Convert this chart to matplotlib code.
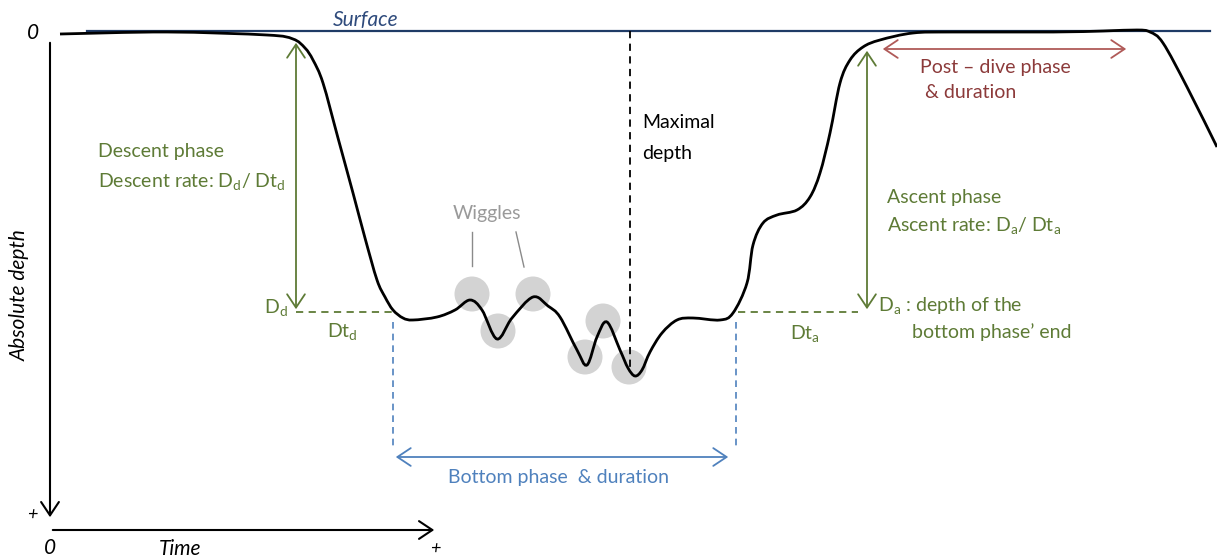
import matplotlib
matplotlib.use("Agg")
import matplotlib.pyplot as plt
import numpy as np
from matplotlib.path import Path
from matplotlib.patches import PathPatch, Circle, FancyArrowPatch

plt.rcParams['font.family'] = ['Lato', 'DejaVu Sans']
plt.rcParams['mathtext.fontset'] = 'custom'
plt.rcParams['mathtext.rm'] = 'Lato'
plt.rcParams['mathtext.it'] = 'Lato:italic'

# ---- data (schematic units: time -> x, depth -> y) ----
profile_time = [60, 167, 267, 293, 305, 313, 323, 338, 353, 365, 377, 385, 393, 403, 413,
                437, 455, 470, 482, 497, 512, 533, 548, 560, 577, 587, 597, 607, 620,
                628, 635, 642, 650, 662, 677, 693, 720, 733, 747, 753, 763, 777, 797,
                810, 820, 830, 840, 850, 863, 880, 913, 953, 1053, 1103, 1137, 1150,
                1163, 1187, 1217]
profile_depth = [34, 32, 35, 39, 48, 60, 83, 138, 193, 238, 280, 297, 310, 318, 320,
                 317, 310, 300, 310, 339, 318, 297, 306, 317, 350, 365, 337, 322, 350,
                 368, 376, 370, 352, 333, 320, 318, 320, 313, 283, 245, 223, 215, 210,
                 197, 173, 133, 83, 60, 47, 40, 33, 32, 32, 31, 30, 32, 43, 87, 147]

wiggle_time = [472, 498, 533, 585, 603, 629]
wiggle_depth = [294, 331, 294, 357, 321, 367]

surface_depth = 31
descent_end_time, descent_depth = 393, 312
ascent_start_time, ascent_depth = 736, 312
max_depth_time, max_depth = 630, 376
post_dive_start, post_dive_end = 880, 1129

GREEN = '#5e7b36'
BLUE = '#4f81bd'
RED = '#8c3a3a'
NAVY = '#1f3b66'
FS = 14

fig = plt.figure(figsize=(12.17, 5.58), dpi=100)
ax = fig.add_axes([0, 0, 1, 1])
ax.set_xlim(0, 1217)
ax.set_ylim(558, 0)
ax.axis('off')

# smooth curve through profile points (Catmull-Rom -> cubic Bezier)
pts = np.column_stack([profile_time, profile_depth]).astype(float)
verts = [pts[0]]
codes = [Path.MOVETO]
for i in range(len(pts) - 1):
    p0 = pts[i - 1] if i > 0 else pts[i]
    p1 = pts[i]
    p2 = pts[i + 1]
    p3 = pts[i + 2] if i + 2 < len(pts) else pts[i + 1]
    c1 = p1 + (p2 - p0) / 6.0
    c2 = p2 - (p3 - p1) / 6.0
    verts += [c1, c2, p2]
    codes += [Path.CURVE4] * 3

# wiggle circles
for t, d in zip(wiggle_time, wiggle_depth):
    ax.add_patch(Circle((t, d), 17.5, facecolor='#d3d3d3', edgecolor='none', zorder=1))

# surface line
ax.plot([87, 1210], [surface_depth, surface_depth], color=NAVY, lw=1.6, zorder=2)
ax.text(366, 20, 'Surface', color='#2f4b7c', fontsize=15, style='italic',
        ha='center', va='center')

ax.add_patch(PathPatch(Path(verts, codes), facecolor='none', edgecolor='black', lw=2.0, zorder=3))

# axes arrows
arr = '->,head_length=6,head_width=4'
ax.add_patch(FancyArrowPatch((50, 40), (50, 520), arrowstyle=arr,
                             color='black', lw=1.5, mutation_scale=1.6, zorder=2))
ax.add_patch(FancyArrowPatch((50, 530), (437, 530), arrowstyle=arr,
                             color='black', lw=1.5, mutation_scale=1.6, zorder=2))
ax.text(33, 33, '0', fontsize=15, style='italic', ha='center', va='center')
ax.text(32, 515, '+', fontsize=13, style='italic', ha='center', va='center')
ax.text(50, 548, '0', fontsize=15, style='italic', ha='center', va='center')
ax.text(180, 549, 'Time', fontsize=15, style='italic', ha='center', va='center')
ax.text(435, 549, '+', fontsize=13, style='italic', ha='center', va='center')
ax.text(20, 295, 'Absolute depth', fontsize=15, style='italic', rotation=90,
        ha='center', va='center')

# descent annotations
darr = '<->,head_length=6,head_width=4'
ax.add_patch(FancyArrowPatch((296, 40), (296, descent_depth), arrowstyle=darr, color=GREEN,
                             lw=1.3, mutation_scale=1.6, zorder=2))
ax.plot([296, descent_end_time], [descent_depth, descent_depth], color=GREEN, lw=1.3,
        ls=(0, (4, 3)), zorder=2)
ax.text(98, 152, 'Descent phase', color=GREEN, fontsize=FS, va='center')
ax.text(98, 182, r'Descent rate: D$_{\rm d}$/ Dt$_{\rm d}$', color=GREEN, fontsize=FS, va='center')
ax.text(264, 308, r'D$_{\rm d}$', color=GREEN, fontsize=FS, va='center')
ax.text(327, 332, r'Dt$_{\rm d}$', color=GREEN, fontsize=FS, va='center')

# bottom phase
for t in [descent_end_time, ascent_start_time]:
    ax.plot([t, t], [322, 446], color=BLUE, lw=1.2, ls=(0, (4, 3)), zorder=2)
ax.add_patch(FancyArrowPatch((descent_end_time, 457), (731, 457), arrowstyle=darr, color=BLUE,
                             lw=1.3, mutation_scale=1.6, zorder=2))
ax.text(558, 478, 'Bottom phase  & duration', color=BLUE, fontsize=FS, ha='center', va='center')

# wiggles
ax.text(487, 213, 'Wiggles', color='#9a9a9a', fontsize=FS, ha='center', va='center')
ax.plot([472, 472], [232, 266], color='#8a8a8a', lw=1.0)
ax.plot([516, 524], [232, 267], color='#8a8a8a', lw=1.0)

# maximal depth
ax.plot([max_depth_time, max_depth_time], [surface_depth, max_depth - 9], color='black',
        lw=1.3, ls=(0, (4, 3)), zorder=2)
ax.text(642, 122, 'Maximal', fontsize=FS, va='center')
ax.text(642, 153, 'depth', fontsize=FS, va='center')

# ascent annotations
ax.add_patch(FancyArrowPatch((867, 48), (867, ascent_depth), arrowstyle=darr, color=GREEN,
                             lw=1.3, mutation_scale=1.6, zorder=2))
ax.plot([ascent_start_time + 2, 858], [ascent_depth, ascent_depth], color=GREEN, lw=1.3,
        ls=(0, (4, 3)), zorder=2)
ax.text(887, 197, 'Ascent phase', color=GREEN, fontsize=FS, va='center')
ax.text(887, 225, r'Ascent rate: D$_{\rm a}$/ Dt$_{\rm a}$', color=GREEN, fontsize=FS, va='center')
ax.text(878, 306, r'D$_{\rm a}$ : depth of the', color=GREEN, fontsize=FS, va='center')
ax.text(912, 332, 'bottom phase\u2019 end', color=GREEN, fontsize=FS, va='center')
ax.text(790, 333, r'Dt$_{\rm a}$', color=GREEN, fontsize=FS, va='center')

# post-dive
ax.add_patch(FancyArrowPatch((post_dive_start, 49), (post_dive_end, 49), arrowstyle=darr,
                             color='#b05a58', lw=1.3, mutation_scale=1.6, zorder=2))
ax.text(920, 67, 'Post \u2013 dive phase', color=RED, fontsize=FS, va='center')
ax.text(925, 93, '& duration', color=RED, fontsize=FS, va='center')

fig.savefig('out.png', dpi=100)
